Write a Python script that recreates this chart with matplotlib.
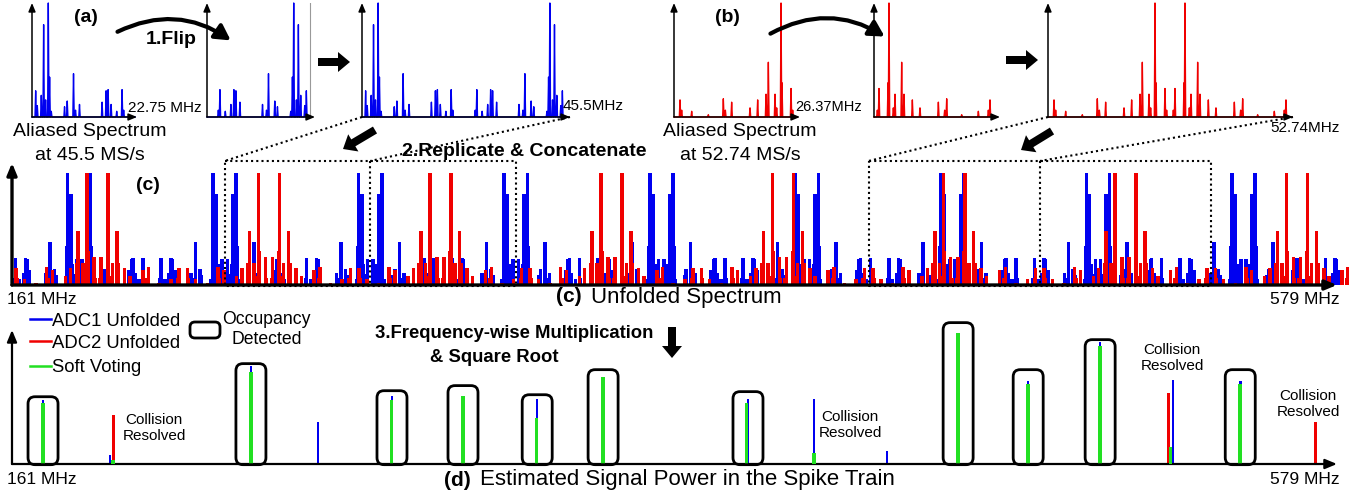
import numpy as np
import matplotlib.pyplot as plt
from matplotlib.patches import FancyArrowPatch, FancyArrow, FancyBboxPatch

plt.rcParams['font.family'] = ['Liberation Sans', 'DejaVu Sans']

W, H = 1363, 496
BLUE = '#0000f0'
RED = '#f00000'
GREEN = '#22e022'

# aliased spectrum seen by ADC1 (0 .. fs1/2)
fs1 = 45.5
adc1_freq = [0.81, 1.17, 2.05, 2.57, 3.01, 3.60, 3.89, 4.26, 7.19, 7.78,
             9.17, 9.61, 10.49, 15.48, 16.37, 16.81, 17.47, 18.71, 19.89, 20.25]
adc1_amp = [0.23, 0.10, 0.19, 0.81, 0.15, 1.00, 0.35, 0.05, 0.09, 0.14,
            0.38, 0.06, 0.11, 0.13, 0.23, 0.24, 0.11, 0.05, 0.24, 0.06]

# aliased spectrum seen by ADC2 (0 .. fs2/2)
fs2 = 52.74
adc2_freq = [1.30, 1.66, 3.82, 7.42, 10.66, 11.10, 12.46, 16.43, 18.08,
             19.89, 20.39, 21.83, 22.19, 23.13, 23.34, 25.29, 25.65]
adc2_amp = [0.15, 0.06, 0.05, 0.02, 0.16, 0.06, 0.13, 0.08, 0.15,
            0.20, 0.48, 0.20, 0.08, 1.00, 0.30, 0.25, 0.06]

# unfolded band
f_lo, f_hi = 161, 579
rep1_start, rep1_period = 0.0, 45.5      # ADC1 replicas sit on multiples of fs1
rep2_start, rep2_period = 161.0, 53.56   # drawn width of one ADC2 replica

# (d) estimated power per frequency
blue_f = [170.7, 191.6, 235.7, 256.7, 279.8, 325.2, 391.1, 411.8, 434.6, 478.7, 501.2, 524.0, 545.0]
blue_h = [0.48, 0.07, 0.73, 0.31, 0.51, 0.485, 0.485, 0.485, 0.10, 0.62, 0.91, 0.63, 0.62]
red_f = [192.6, 522.5, 568.4]
red_h = [0.366, 0.53, 0.31]
green_f = [170.7, 192.6, 235.7, 279.6, 302.0, 325.0, 345.8, 390.6, 411.8, 456.8, 478.7, 501.2, 523.2, 545.0]
green_h = [0.455, 0.03, 0.69, 0.48, 0.51, 0.34, 0.65, 0.455, 0.08, 0.98, 0.60, 0.88, 0.13, 0.60]
box_f = [170.7, 235.7, 279.8, 302.0, 325.2, 345.8, 391.1, 456.8, 478.7, 501.2, 545.0]
box_top = [0.507, 0.754, 0.552, 0.590, 0.522, 0.709, 0.545, 1.06, 0.709, 0.933, 0.709]
collision = [(154, 428), (850, 425), (1172, 358), (1308, 404)]


def spikes(freq, amp, end, hw=0.15):
    xs, ys = [0], [0]
    for i in np.argsort(freq):
        xs += [freq[i] - hw, freq[i], freq[i] + hw]
        ys += [0, amp[i], 0]
    xs.append(end)
    ys.append(0)
    return np.array(xs), np.array(ys)


def unfold(freq, amp, fs, start, period):
    f = np.array(freq) / fs * period
    a = np.array(amp)
    one_x = np.concatenate([f, period - f])
    one_y = np.concatenate([a, a])
    k0 = int(np.floor((f_lo - start) / period))
    xs = np.concatenate([start + k * period + one_x for k in range(k0, k0 + 12)])
    ys = np.tile(one_y, 12)
    keep = (xs >= f_lo) & (xs <= f_hi)
    return xs[keep], ys[keep]


def px_axes(x0, y0, x1, y1):
    return fig.add_axes([x0 / W, 1 - y1 / H, (x1 - x0) / W, (y1 - y0) / H])


def axis_arrows(ax, lw, head, xend=1.0):
    style = f'-|>,head_length={head},head_width={head / 2.4}'
    kw = dict(arrowstyle=style, lw=lw, color='k', shrinkA=0, shrinkB=0)
    ax.annotate('', xy=(xend, 0), xytext=(0, 0), xycoords='axes fraction', arrowprops=kw)
    ax.annotate('', xy=(0, 1), xytext=(0, 0), xycoords='axes fraction', arrowprops=kw)


fig = plt.figure(figsize=(W / 100, H / 100), dpi=100)

# ---- top small spectra ----
small = [
    (32, 137, 23.19, adc1_freq, adc1_amp, fs1 / 2, BLUE, 'none'),
    (207, 315, 23.85, [fs1 / 2 - f for f in adc1_freq], adc1_amp, fs1 / 2, BLUE, 'flip'),
    (362, 570, 46.39, adc1_freq + [fs1 - f for f in adc1_freq], adc1_amp * 2, fs1, BLUE, 'none'),
    (674, 800, 27.23, adc2_freq, adc2_amp, fs2 / 2, RED, 'none'),
    (874, 1000, 27.23, [fs2 / 2 - f for f in adc2_freq], adc2_amp, fs2 / 2, RED, 'none'),
    (1048, 1293, 52.96, adc2_freq + [fs2 - f for f in adc2_freq], adc2_amp * 2, fs2, RED, 'none'),
]
for x0, x1, xmax, fr, am, end, col, extra in small:
    ax = px_axes(x0, 3, x1, 117)
    ax.set_xlim(0, xmax)
    ax.set_ylim(0, 1.0)
    ax.axis('off')
    xs, ys = spikes(fr, am, end)
    ax.plot(xs, ys, color=col, lw=1.0, clip_on=False)
    if extra == 'flip':
        ax.plot([end, end], [0, 1], color='#999999', lw=0.8)
    axis_arrows(ax, 1.1, 0.5)

# ---- (c) unfolded spectrum ----
axc = px_axes(12, 163, 1349, 285)
axc.set_xlim(f_lo, f_hi)
axc.set_ylim(0, 1.089)
axc.axis('off')
bx, by = unfold(adc1_freq, adc1_amp, fs1, rep1_start, rep1_period)
rx, ry = unfold(adc2_freq, adc2_amp, fs2, rep2_start, rep2_period)
axc.bar(bx, by, width=1.1, color=BLUE, linewidth=0, zorder=2)
axc.bar(rx, ry, width=1.1, color=RED, linewidth=0, zorder=3)
axis_arrows(axc, 2.4, 0.7, xend=0.991)

# ---- (d) estimated power ----
axd = px_axes(12, 330, 1349, 464)
axd.set_xlim(f_lo, f_hi)
axd.set_ylim(0, 1)
axd.axis('off')
axd.bar(blue_f, blue_h, width=0.8, color=BLUE, linewidth=0, zorder=2)
axd.bar(red_f, red_h, width=0.9, color=RED, linewidth=0, zorder=3)
axd.bar(green_f, green_h, width=1.1, color=GREEN, linewidth=0, zorder=4)
xpx = 1337 / 418
asp = (1 / 134) / (1 / xpx)
for f, t in zip(box_f, box_top):
    bw = 30 / xpx
    axd.add_patch(FancyBboxPatch((f - bw / 2, -0.005), bw, t, boxstyle=f'round,pad=0,rounding_size={7 / xpx}',
                                 mutation_aspect=asp, fill=False, ec='k', lw=2.0, clip_on=False, zorder=5))
axis_arrows(axd, 1.6, 0.7, xend=0.991)

# ---- overlay for annotations ----
ov = fig.add_axes([0, 0, 1, 1])
ov.set_xlim(0, W)
ov.set_ylim(H, 0)
ov.axis('off')
ov.patch.set_visible(False)


def f2px(f):
    return 12 + (f - f_lo) * xpx


def txt(x, y, s, size, bold=False, ha='center', **kw):
    ov.text(x, y, s, fontsize=size, fontweight='bold' if bold else 'normal',
            ha=ha, va='center', **kw)


txt(86, 17, '(a)', 14, True)
txt(171, 40, '1.Flip', 14, True)
txt(90, 131, 'Aliased Spectrum', 14)
txt(90, 155, 'at 45.5 MS/s', 14)
txt(128, 108, '22.75 MHz', 11, ha='left')
txt(563, 106, '45.5MHz', 11, ha='left')
txt(727, 17, '(b)', 14, True)
txt(795, 107, '26.37MHz', 10.5, ha='left')
txt(740, 131, 'Aliased Spectrum', 14)
txt(740, 155, 'at 52.74 MS/s', 14)
txt(1270, 128, '52.74MHz', 11, ha='left')
txt(402, 152, '2.Replicate & Concatenate', 14, True, ha='left')
txt(148, 185, '(c)', 14, True)

txt(7, 300, '161 MHz', 12.5, ha='left')
txt(1340, 300, '579 MHz', 12.5, ha='right')
txt(556, 297, '(c)', 15, True, ha='left')
txt(591, 297, 'Unfolded Spectrum', 16, ha='left')
txt(7, 479, '161 MHz', 12.5, ha='left')
txt(1340, 479, '579 MHz', 12.5, ha='right')
txt(444, 480, '(d)', 15, True, ha='left')
txt(480, 480, 'Estimated Signal Power in the Spike Train', 16, ha='left')

# legend
for yy, col, lab in [(319, BLUE, 'ADC1 Unfolded'), (341, RED, 'ADC2 Unfolded'), (366, GREEN, 'Soft Voting')]:
    ov.plot([30, 51], [yy, yy], color=col, lw=1.8)
    txt(52, yy + 2, lab, 13.3, ha='left')
ov.add_patch(FancyBboxPatch((190, 322), 30, 16, boxstyle='round,pad=0,rounding_size=5',
                            fill=False, ec='k', lw=2.0))
txt(266, 320, 'Occupancy', 12.7)
txt(267, 340, 'Detected', 12.7)
txt(375, 333, '3.Frequency-wise Multiplication', 13.3, True, ha='left')
txt(430, 358, '& Square Root', 13.3, True, ha='left')
for cx, cy in collision:
    txt(cx, cy, 'Collision\nResolved', 11, linespacing=1.1)

# block arrows
blk = dict(width=8, head_width=20, head_length=12, length_includes_head=True, color='k', lw=0)
ov.add_patch(FancyArrow(318, 62, 32, 0, **blk))
ov.add_patch(FancyArrow(1006, 60, 32, 0, **blk))
ov.add_patch(FancyArrow(375, 130, -32, 19, **blk))
ov.add_patch(FancyArrow(1052, 131, -31, 19, **blk))
ov.add_patch(FancyArrow(672, 327, 0, 31, **blk))

# curved flip arrows
for a, b in [((115, 33), (233, 42)), ((768, 35), (887, 38))]:
    ov.add_patch(FancyArrowPatch(a, b, connectionstyle='arc3,rad=-0.3',
                                 arrowstyle='-|>,head_length=9,head_width=5', lw=3, color='k'))

# dotted replica frames and connectors
dot = dict(color='k', lw=1.5, ls=(0, (1, 1.5)))
a_edges = [f2px(5 * fs1), f2px(6 * fs1), f2px(7 * fs1)]
b_edges = [f2px(rep2_start + k * rep2_period) for k in (5, 6, 7)]
for e in (a_edges, b_edges):
    ov.plot([e[0], e[2], e[2], e[0], e[0]], [161, 161, 286, 286, 161], **dot)
    ov.plot([e[1], e[1]], [161, 286], **dot)
ov.plot([362, a_edges[0]], [117, 161], **dot)
ov.plot([570, a_edges[1]], [117, 161], **dot)
ov.plot([1048, b_edges[0]], [117, 161], **dot)
ov.plot([1293, b_edges[1]], [117, 161], **dot)

fig.savefig('out.png', dpi=100)
